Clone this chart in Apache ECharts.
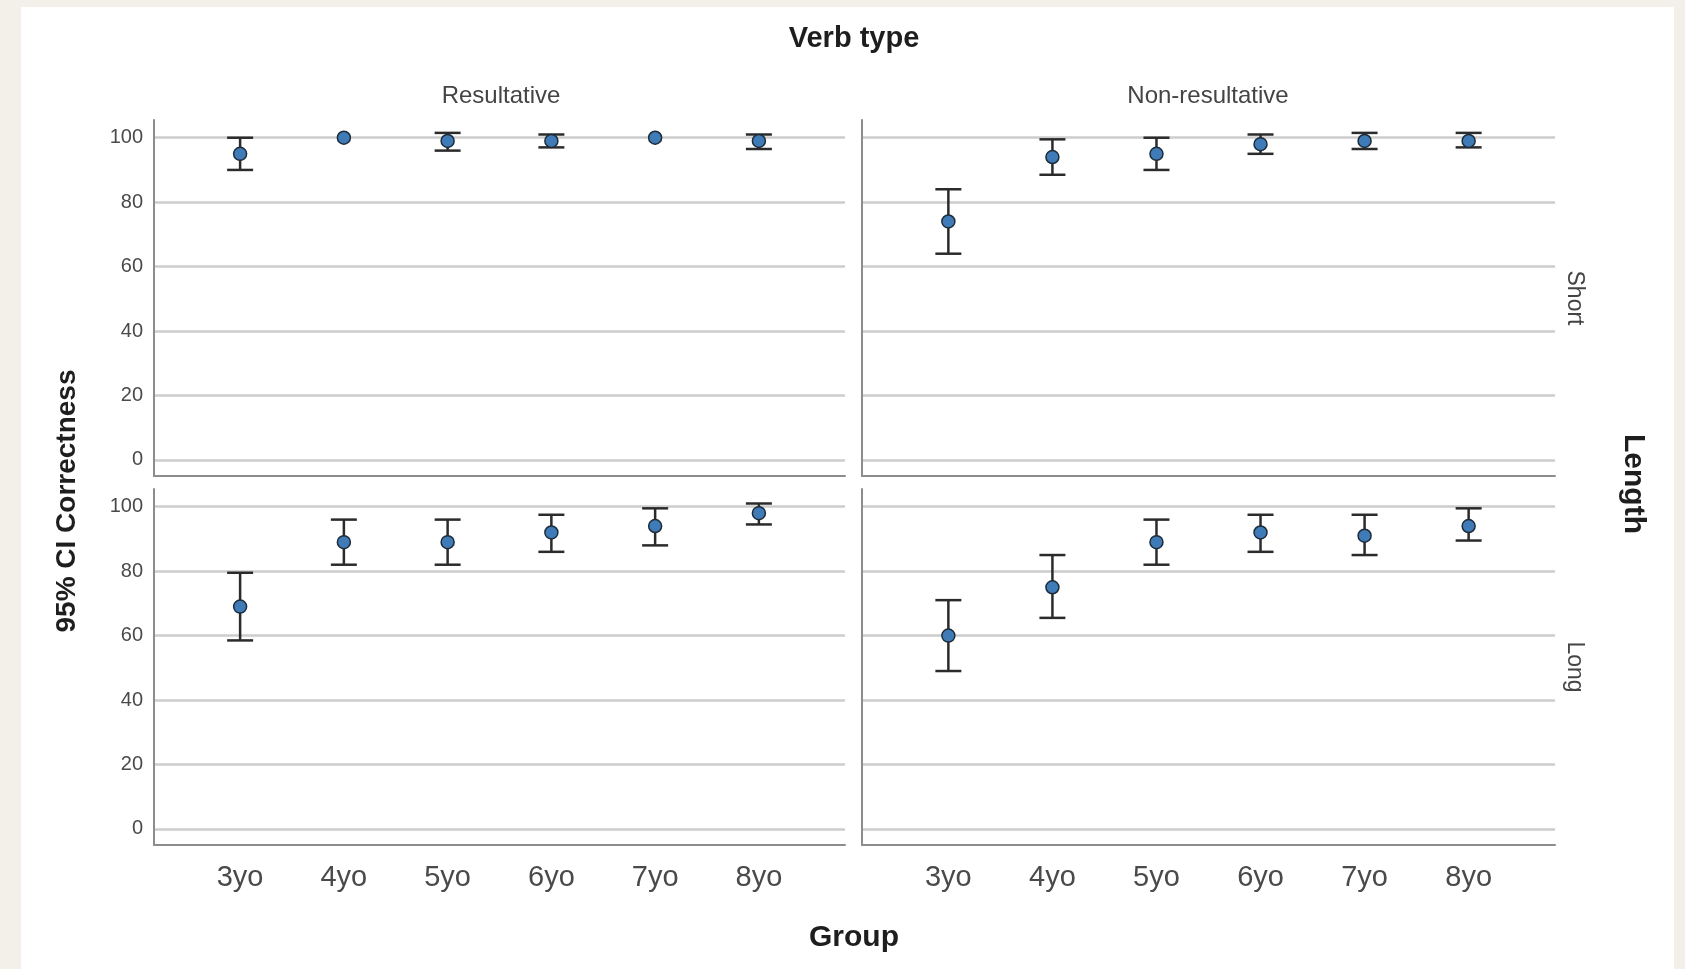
<!DOCTYPE html>
<html>
<head>
<meta charset="utf-8">
<script src="https://cdn.jsdelivr.net/npm/echarts@6/dist/echarts.min.js"></script>
<style>
  html, body { margin: 0; padding: 0; background: #f3f0e9; }
  #paper { position: absolute; left: 21px; top: 7px; width: 1653px; height: 962px; background: #fff; }
  #chart { position: absolute; left: 0; top: 0; width: 1685px; height: 969px; }
</style>
</head>
<body>
<div id="paper"></div>
<div id="chart"></div>
<script>
const groups = ['3yo', '4yo', '5yo', '6yo', '7yo', '8yo']
const yTicks = [0, 20, 40, 60, 80, 100]

// Short / Resultative
const shortResMean = [95, 100, 99, 99, 100, 99]
const shortResLow = [90, 100, 96, 97, 100, 96.5]
const shortResHigh = [100, 100, 101.5, 101, 100, 101]
// Short / Non-resultative
const shortNonMean = [74, 94, 95, 98, 99, 99]
const shortNonLow = [64, 88.5, 90, 95, 96.5, 97]
const shortNonHigh = [84, 99.5, 100, 101, 101.5, 101.5]
// Long / Resultative
const longResMean = [69, 89, 89, 92, 94, 98]
const longResLow = [58.5, 82, 82, 86, 88, 94.5]
const longResHigh = [79.5, 96, 96, 97.5, 99.5, 101]
// Long / Non-resultative
const longNonMean = [60, 75, 89, 92, 91, 94]
const longNonLow = [49, 65.5, 82, 86, 85, 89.5]
const longNonHigh = [71, 85, 96, 97.5, 97.5, 99.5]

const panels = [
  { mean: shortResMean, low: shortResLow, high: shortResHigh },
  { mean: shortNonMean, low: shortNonLow, high: shortNonHigh },
  { mean: longResMean, low: longResLow, high: longResHigh },
  { mean: longNonMean, low: longNonLow, high: longNonHigh }
]

const grids = [
  { left: 154, top: 120, width: 691, height: 356 },
  { left: 862, top: 120, width: 693, height: 356 },
  { left: 154, top: 489, width: 691, height: 356 },
  { left: 862, top: 489, width: 693, height: 356 }
]

const font = 'Liberation Sans, Arial, sans-serif'
const axisLineStyle = { color: '#8c8c8c', width: 2 }

let xAxes = grids.map((g, i) => ({
  type: 'value',
  gridIndex: i,
  min: -0.83,
  max: 5.83,
  axisLine: { show: true, onZero: false, lineStyle: axisLineStyle },
  axisTick: { show: false, customValues: [0, 1, 2, 3, 4, 5] },
  splitLine: { show: false },
  axisLabel: {
    show: i >= 2,
    customValues: [0, 1, 2, 3, 4, 5],
    formatter: v => groups[Math.round(v)],
    fontSize: 29,
    color: '#4a4a4a',
    fontFamily: font,
    margin: 18
  }
}))

let yAxes = grids.map((g, i) => ({
  type: 'value',
  gridIndex: i,
  min: -5,
  max: 105.5,
  axisLine: { show: true, onZero: false, lineStyle: axisLineStyle },
  axisTick: { show: false, customValues: yTicks },
  splitLine: { show: true, lineStyle: { color: '#cdcdcd', width: 2.5 } },
  axisLabel: {
    show: i % 2 === 0,
    customValues: yTicks,
    fontSize: 20,
    color: '#4a4a4a',
    fontFamily: font,
    margin: 11
  }
}))

function errorBar(params, api) {
  const x = api.value(0)
  const lo = api.value(1)
  const hi = api.value(2)
  if (lo === hi) return
  const top = api.coord([x, hi])
  const bot = api.coord([x, lo])
  const half = 13
  const style = { stroke: '#2b2b2b', lineWidth: 2.5 }
  return {
    type: 'group',
    children: [
      { type: 'line', shape: { x1: top[0], y1: top[1], x2: bot[0], y2: bot[1] }, style },
      { type: 'line', shape: { x1: top[0] - half, y1: top[1], x2: top[0] + half, y2: top[1] }, style },
      { type: 'line', shape: { x1: bot[0] - half, y1: bot[1], x2: bot[0] + half, y2: bot[1] }, style }
    ]
  }
}

let series = []
panels.forEach((p, i) => {
  series.push({
    type: 'custom',
    xAxisIndex: i,
    yAxisIndex: i,
    renderItem: errorBar,
    data: groups.map((g, k) => [k, p.low[k], p.high[k]]),
    z: 3
  })
  series.push({
    type: 'scatter',
    xAxisIndex: i,
    yAxisIndex: i,
    symbol: 'circle',
    symbolSize: 13,
    itemStyle: { color: '#3f7bb6', borderColor: '#1e2c3a', borderWidth: 1.5, opacity: 1 },
    data: groups.map((g, k) => [k, p.mean[k]]),
    z: 4
  })
})

function label(text, x, y, size, opts) {
  return Object.assign({
    type: 'text',
    x: x,
    y: y,
    style: {
      text: text,
      fontSize: size,
      fontFamily: font,
      fill: '#222',
      align: 'center',
      verticalAlign: 'middle'
    }
  }, opts || {})
}

const graphics = [
  label('Verb type', 854, 39, 29, { style: { text: 'Verb type', fontSize: 29, fontWeight: 'bold', fontFamily: font, fill: '#1e1e1e', align: 'center', verticalAlign: 'middle' } }),
  label('Resultative', 501, 96, 24, { style: { text: 'Resultative', fontSize: 24, fontFamily: font, fill: '#444', align: 'center', verticalAlign: 'middle' } }),
  label('Non-resultative', 1208, 96, 24, { style: { text: 'Non-resultative', fontSize: 24, fontFamily: font, fill: '#444', align: 'center', verticalAlign: 'middle' } }),
  label('Group', 854, 938, 30, { style: { text: 'Group', fontSize: 30, fontWeight: 'bold', fontFamily: font, fill: '#1e1e1e', align: 'center', verticalAlign: 'middle' } }),
  label('95% CI Correctness', 67, 501, 28, { rotation: Math.PI / 2, style: { text: '95% CI Correctness', fontSize: 28, fontWeight: 'bold', fontFamily: font, fill: '#1e1e1e', align: 'center', verticalAlign: 'middle' } }),
  label('Length', 1633, 484, 30, { rotation: -Math.PI / 2, style: { text: 'Length', fontSize: 30, fontWeight: 'bold', fontFamily: font, fill: '#1e1e1e', align: 'center', verticalAlign: 'middle' } }),
  label('Short', 1574, 298, 23, { rotation: -Math.PI / 2, style: { text: 'Short', fontSize: 23, fontFamily: font, fill: '#444', align: 'center', verticalAlign: 'middle' } }),
  label('Long', 1574, 667, 23, { rotation: -Math.PI / 2, style: { text: 'Long', fontSize: 23, fontFamily: font, fill: '#444', align: 'center', verticalAlign: 'middle' } })
]

const option = {
  animation: false,
  backgroundColor: 'transparent',
  grid: grids,
  xAxis: xAxes,
  yAxis: yAxes,
  series: series,
  graphic: graphics
}

const myChart = echarts.init(document.getElementById('chart'), null, { renderer: 'canvas' })
myChart.setOption(option)
</script>
</body>
</html>
